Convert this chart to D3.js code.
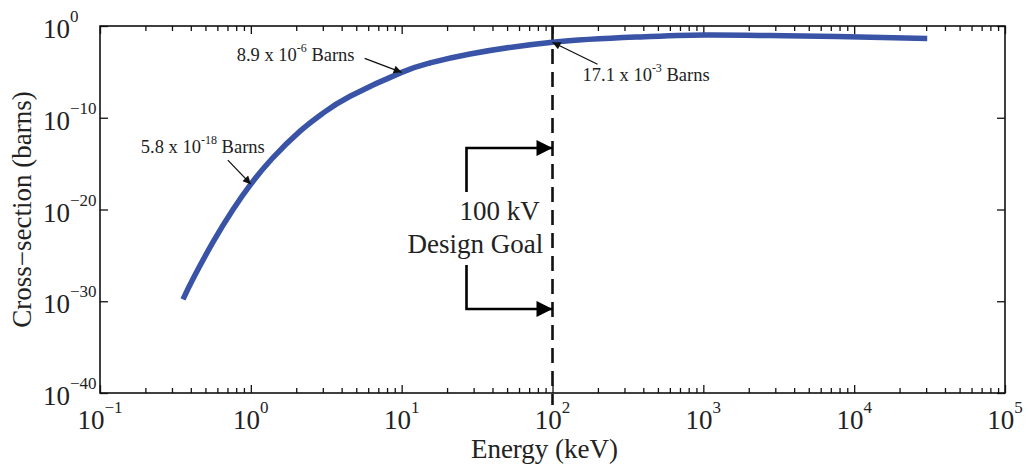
<!DOCTYPE html>
<html>
<head>
<meta charset="utf-8">
<script src="https://cdn.jsdelivr.net/npm/d3@7"></script>
<style>
  html, body { margin: 0; padding: 0; background: #fff; }
  svg { display: block; }
  text { font-family: "Liberation Serif", "Times New Roman", serif; fill: #222; }
</style>
</head>
<body>
<svg id="chart" width="1029" height="464"></svg>
<script>
// ---- data ----
const energyKeV = [0.355, 0.414, 0.561, 0.762, 1, 1.38, 2.12, 3.01, 4.55, 10, 15.4, 28.4, 100, 364, 1000, 2770, 7710, 30500];
const crossSection = [1.6e-30, 2.8e-28, 2.75e-24, 1.0e-20, 5.8e-18, 3.4e-15, 3.5e-12, 3.2e-10, 2.2e-8, 8.9e-6, 9.3e-5, 8.9e-4, 1.71e-2, 6.3e-2, 0.105, 0.091, 0.072, 0.044];

const xTickExponents = [-1, 0, 1, 2, 3, 4, 5];
const yTickExponents = [0, -10, -20, -30, -40];

const annotEnergy = [1, 10, 100];
const annotSigma = [5.8e-18, 8.9e-6, 17.1e-3];
const annotMantissa = ["5.8", "8.9", "17.1"];
const annotExponent = ["-18", "-6", "-3"];

const goalEnergy = 100;
const goalArrowSigma = [5.0e-14, 1.45e-31];
const goalLines = ["100 kV", "Design Goal"];

// ---- layout ----
const svg = d3.select("#chart");
const L = 100, R = 1005, T = 26, B = 393;
const x = d3.scaleLog().domain([1e-1, 1e5]).range([L, R]);
const y = d3.scaleLog().domain([1e-40, 1]).range([B, T]);

const sup = s => s.replace(/^-/, "\u2212");

// markers
const defs = svg.append("defs");
defs.append("marker").attr("id", "headSmall")
  .attr("markerUnits", "userSpaceOnUse").attr("viewBox", "0 0 10 10")
  .attr("refX", 10).attr("refY", 5).attr("markerWidth", 10).attr("markerHeight", 8)
  .attr("orient", "auto")
  .append("path").attr("d", "M0,0 L10,5 L0,10 Z").attr("fill", "#111");
defs.append("marker").attr("id", "headBig")
  .attr("markerUnits", "userSpaceOnUse").attr("viewBox", "0 0 10 10")
  .attr("refX", 10).attr("refY", 5).attr("markerWidth", 17).attr("markerHeight", 16)
  .attr("orient", "auto")
  .append("path").attr("d", "M0,0 L10,5 L0,10 Z").attr("fill", "#000");

// frame
svg.append("rect").attr("x", L).attr("y", T).attr("width", R - L).attr("height", B - T)
  .attr("fill", "none").attr("stroke", "#111").attr("stroke-width", 1.6);

// x ticks
const xMajor = xTickExponents.map(e => Math.pow(10, e));
const xMinor = [];
for (let e = -1; e < 5; e++) for (let k = 2; k <= 9; k++) xMinor.push(k * Math.pow(10, e));
const yMajor = yTickExponents.map(e => Math.pow(10, e));

function styleAxis(g) {
  g.select(".domain").remove();
  g.selectAll("line").attr("stroke", "#111").attr("stroke-width", 1.3);
  g.selectAll("text").remove();
}
svg.append("g").attr("transform", `translate(0,${B})`)
  .call(d3.axisBottom(x).tickValues(xMajor).tickSize(-8).tickFormat("")).call(styleAxis);
svg.append("g").attr("transform", `translate(0,${B})`)
  .call(d3.axisBottom(x).tickValues(xMinor).tickSize(-5).tickFormat("")).call(styleAxis);
svg.append("g").attr("transform", `translate(0,${T})`)
  .call(d3.axisTop(x).tickValues(xMajor).tickSize(-8).tickFormat("")).call(styleAxis);
svg.append("g").attr("transform", `translate(0,${T})`)
  .call(d3.axisTop(x).tickValues(xMinor).tickSize(-5).tickFormat("")).call(styleAxis);
svg.append("g").attr("transform", `translate(${L},0)`)
  .call(d3.axisLeft(y).tickValues(yMajor).tickSize(-8).tickFormat("")).call(styleAxis);
svg.append("g").attr("transform", `translate(${R},0)`)
  .call(d3.axisRight(y).tickValues(yMajor).tickSize(-8).tickFormat("")).call(styleAxis);

// x tick labels
xTickExponents.forEach(e => {
  const t = svg.append("text").attr("x", x(Math.pow(10, e))).attr("y", B + 36)
    .attr("text-anchor", "middle").attr("font-size", 27);
  t.append("tspan").text("10");
  t.append("tspan").attr("dy", -16).attr("font-size", 17).text(sup(String(e)));
});
// y tick labels
yTickExponents.forEach(e => {
  const t = svg.append("text").attr("x", 43).attr("y", y(Math.pow(10, e)) + 12)
    .attr("text-anchor", "start").attr("font-size", 27);
  t.append("tspan").text("10");
  t.append("tspan").attr("dy", -16).attr("font-size", 17).text(sup(String(e)));
});

// axis titles
svg.append("text").attr("x", (L + R) / 2 - 8).attr("y", 458).attr("text-anchor", "middle")
  .attr("font-size", 27).text("Energy (keV)");
svg.append("text").attr("transform", `translate(31,${(T + B) / 2}) rotate(-90)`)
  .attr("text-anchor", "middle").attr("font-size", 27).text("Cross\u2212section (barns)");

// dashed design-goal line
const gx = x(goalEnergy);
svg.append("line").attr("x1", gx).attr("x2", gx).attr("y1", T).attr("y2", B + 12)
  .attr("stroke", "#111").attr("stroke-width", 2.6).attr("stroke-dasharray", "15,8");

// curve
const pts = energyKeV.map((e, i) => [x(e), y(crossSection[i])]);
svg.append("path").attr("d", d3.line().curve(d3.curveNatural)(pts))
  .attr("fill", "none").attr("stroke", "#3953a6").attr("stroke-width", 5.5);

// annotations
const tailOff = [[-23, -24], [-37, -14], [45, 22]];
const textOff = [[-110, -31], [-165, -11], [30, 39]];
annotEnergy.forEach((e, i) => {
  const px = x(e), py = y(annotSigma[i]);
  svg.append("line").attr("x1", px + tailOff[i][0]).attr("y1", py + tailOff[i][1])
    .attr("x2", px).attr("y2", py).attr("stroke", "#111").attr("stroke-width", 1.3)
    .attr("marker-end", "url(#headSmall)");
  const t = svg.append("text").attr("x", px + textOff[i][0]).attr("y", py + textOff[i][1])
    .attr("font-size", 18.5);
  t.append("tspan").text(annotMantissa[i] + " x 10");
  t.append("tspan").attr("dy", -9).attr("font-size", 12).text(annotExponent[i]);
  t.append("tspan").attr("dy", 9).text(" Barns");
});

// design goal brackets
const bx = gx - 86;
const yTop = y(goalArrowSigma[0]), yBot = y(goalArrowSigma[1]);
svg.append("path").attr("d", `M${bx},${yTop + 44} V${yTop} H${gx}`)
  .attr("fill", "none").attr("stroke", "#000").attr("stroke-width", 2.6)
  .attr("marker-end", "url(#headBig)");
svg.append("path").attr("d", `M${bx},${yBot - 44} V${yBot} H${gx}`)
  .attr("fill", "none").attr("stroke", "#000").attr("stroke-width", 2.6)
  .attr("marker-end", "url(#headBig)");
svg.append("text").attr("x", gx - 93).attr("y", yTop + 72).attr("font-size", 27).text(goalLines[0]);
svg.append("text").attr("x", gx - 145).attr("y", yTop + 105).attr("font-size", 27).text(goalLines[1]);
</script>
</body>
</html>
